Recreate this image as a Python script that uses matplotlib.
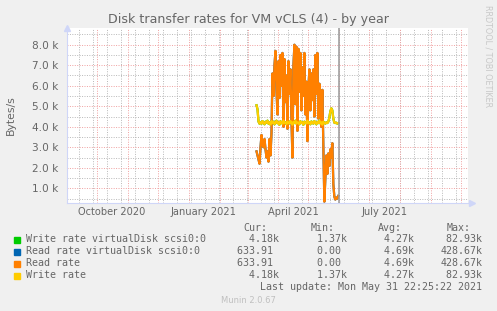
import matplotlib
matplotlib.use('Agg')
import matplotlib.pyplot as plt
import numpy as np
import pandas as pd

# daily averages, Mar 10 .. May 31 2021 (kB/s)
start_day = "2021-03-10"
read_rate_k = [
    2.8, 2.6, 2.4, 2.2, 3.0, 3.6, 3.1, 3.0, 3.4, 2.9,
    2.5, 2.8, 2.3, 3.4, 2.6, 3.7, 6.6, 5.5, 7.0, 7.7,
    5.8, 4.6, 7.2, 5.4, 7.5, 6.0, 7.6, 4.0, 7.3, 5.2,
    6.5, 3.9, 7.2, 5.6, 6.8, 4.4, 2.5, 7.0, 8.0, 5.1,
    7.9, 3.8, 7.8, 5.7, 7.6, 4.8, 6.9, 5.5, 7.6, 4.6,
    6.2, 3.3, 5.9, 6.8, 4.8, 6.6, 5.3, 6.8, 4.5, 7.5,
    5.6, 7.6, 4.4, 6.1, 5.3, 4.0, 5.8, 3.0, 0.35, 1.5,
    2.6, 1.7, 2.7, 2.1, 2.9, 2.5, 3.2, 1.2, 0.6, 0.45,
    0.55, 0.5, 0.63,
]
write_rate_k = [
    5.05, 4.85, 4.25, 4.15, 4.22, 4.15, 4.28, 4.18, 4.12, 4.25,
    4.20, 4.30, 4.15, 4.22, 4.10, 4.28, 4.18, 4.25, 4.12, 4.20,
    4.30, 4.17, 4.22, 4.10, 4.27, 4.20, 4.15, 4.30, 4.18, 4.22,
    4.12, 4.25, 4.20, 4.16, 4.28, 4.20, 4.10, 4.24, 4.18, 4.30,
    4.15, 4.22, 4.20, 4.12, 4.27, 4.18, 4.22, 4.10, 4.25, 4.20,
    4.16, 4.30, 4.18, 4.22, 4.12, 4.26, 4.20, 4.15, 4.28, 4.20,
    4.12, 4.24, 4.18, 4.30, 4.16, 4.22, 4.10, 4.25, 4.20, 4.15,
    4.22, 4.18, 4.25, 4.45, 4.75, 4.90, 4.80, 4.40, 4.20, 4.18,
    4.20, 4.15, 4.18,
]

series_labels = ["Write rate virtualDisk scsi0:0", "Read rate virtualDisk scsi0:0",
                 "Read rate", "Write rate"]
series_colors = ['#00CC00', '#0066B3', '#FF8000', '#FFCC00']
cur_vals = ["  4.18k", "633.91 ", "633.91 ", "  4.18k"]
min_vals = ["  1.37k", "  0.00 ", "  0.00 ", "  1.37k"]
avg_vals = ["  4.27k", "  4.69k", "  4.69k", "  4.27k"]
max_vals = [" 82.93k", "428.67k", "428.67k", " 82.93k"]
month_labels = ["October 2020", "January 2021", "April 2021", "July 2021"]
last_update = "2021-05-31 22:25:22"

FONT = '#666666'
W, H = 497, 311

fig = plt.figure(figsize=(W / 100, H / 100), dpi=100, facecolor='#F0F0F0')
ax = fig.add_axes([67 / W, 1 - 203 / H, 401 / W, 175 / H], facecolor='white')

days = pd.date_range(start_day, periods=len(read_rate_k), freq='D')
read_rate = np.array(read_rate_k) * 1000
write_rate = np.array(write_rate_k) * 1000
series_data = [write_rate, read_rate, read_rate, write_rate]

x0 = pd.Timestamp("2020-09-01")
x1 = pd.Timestamp("2021-10-08")
ax.set_xlim(x0, x1)
ax.set_ylim(283, 8816)

# grid, rrdtool style
for d in pd.date_range("2020-09-13", x1, freq='14D'):
    ax.axvline(d, color='#B8B8B8', lw=0.7, ls=(0, (1, 1.5)), zorder=1)
for yv in np.arange(500, 8816, 1000):
    ax.axhline(yv, color='#B8B8B8', lw=0.7, ls=(0, (1, 1.5)), zorder=1)
for d in pd.date_range(x0, x1, freq='MS'):
    ax.axvline(d, color='#F0A0A0', lw=0.7, ls=(0, (1, 1.5)), zorder=1.5)
for yv in np.arange(1000, 8001, 1000):
    ax.axhline(yv, color='#F0A0A0', lw=0.7, ls=(0, (1, 1.5)), zorder=1.5)

for data, col in zip(series_data, series_colors):
    ax.plot(days, data, color=col, lw=1.6, zorder=3)

ax.axvline(pd.Timestamp(last_update), color='#999999', lw=1.1, zorder=4)

ax.set_yticks(np.arange(1000, 8001, 1000))
ax.set_yticklabels(["%.1f k" % (v / 1000) for v in np.arange(1000, 8001, 1000)])
tick_days = [pd.Timestamp(s) + pd.Timedelta(days=15) for s in
             ["2020-10-01", "2021-01-01", "2021-04-01", "2021-07-01"]]
ax.set_xticks(tick_days)
ax.set_xticklabels(month_labels)
ax.tick_params(length=0, colors=FONT)
ax.tick_params(axis='y', pad=6, labelsize=7.6)
ax.tick_params(axis='x', pad=3, labelsize=7.1)
for s in ['top', 'right']:
    ax.spines[s].set_visible(False)
for s in ['left', 'bottom']:
    ax.spines[s].set_color('#CFD6F8')
    ax.spines[s].set_linewidth(0.8)
ax.plot([0], [1.0], marker='^', ms=4, color='#CFD6F8', transform=ax.transAxes, clip_on=False)
ax.plot([1.01], [0], marker='>', ms=4, color='#CFD6F8', transform=ax.transAxes, clip_on=False)

ax.set_ylabel("Bytes/s", fontsize=7.8, color=FONT)
ax.yaxis.set_label_coords(-51.5 / 401, 0.5)

fig.text(248 / W, 1 - 19 / H, "Disk transfer rates for VM vCLS (4) - by year",
         ha='center', va='center', fontsize=9.1, color=FONT)
fig.text(488 / W, 1 - 5 / H, "RRDTOOL / TOBI OETIKER", rotation=270,
         ha='center', va='top', fontsize=5.8, color='#C8C8C8')

mono = dict(family='DejaVu Sans Mono', fontsize=7.2, color=FONT, va='center')
cw = 6.0
col_start = [237.3, 304.7, 372.3, 440.3]
for cx, head in zip(col_start, ["Cur:", "Min:", "Avg:", "Max:"]):
    fig.text((cx + cw) / W, 1 - 228 / H, head, ha='left', **mono)
row_y = [239.5, 251.5, 263.5, 275.5]
for i, yy in enumerate(row_y):
    fig.patches.append(plt.Rectangle((14 / W, 1 - (yy + 3) / H), 6 / W, 6 / H,
                                     transform=fig.transFigure, color=series_colors[i]))
    fig.text(26 / W, 1 - yy / H, series_labels[i], ha='left', **mono)
    for cx, vals in zip(col_start, [cur_vals, min_vals, avg_vals, max_vals]):
        fig.text(cx / W, 1 - yy / H, vals[i], ha='left', **mono)
fig.text(482.3 / W, 1 - 287.5 / H, "Last update: Mon May 31 22:25:22 2021", ha='right', **mono)
fig.text(248 / W, 1 - 300.5 / H, "Munin 2.0.67", ha='center', va='center',
         fontsize=6, color='#C0C0C0')

fig.savefig("out.png", dpi=100, facecolor=fig.get_facecolor())
